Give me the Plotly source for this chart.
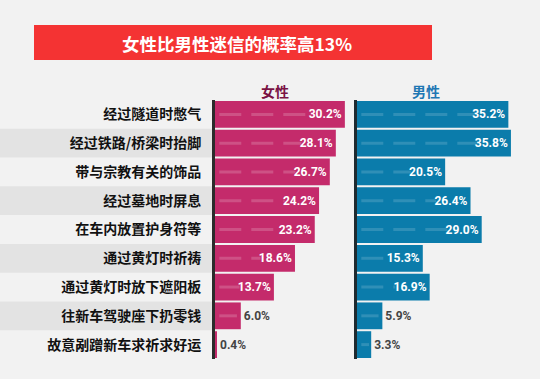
import plotly.graph_objects as go

categories = ["经过隧道时憋气", "经过铁路/桥梁时抬脚", "带与宗教有关的饰品", "经过墓地时屏息",
              "在车内放置护身符等", "通过黄灯时祈祷", "通过黄灯时放下遮阳板", "往新车驾驶座下扔零钱",
              "故意剐蹭新车求祈求好运"]
female = [30.2, 28.1, 26.7, 24.2, 23.2, 18.6, 13.7, 6.0, 0.4]
male = [35.2, 35.8, 20.5, 26.4, 29.0, 15.3, 16.9, 5.9, 3.3]
title_text = "女性比男性迷信的概率高13%"
group_names = ["女性", "男性"]

W, H = 540, 379
FEMALE_C = "#c42b6b"
MALE_C = "#0b7cab"
BG = "#f2f2f2"
BAND = "#e3e3e3"
CJK = "Noto Sans CJK SC"
NUM = "Roboto"

fig = go.Figure()

def add_group(vals, color, dash_color, xa, ya):
    pos = ["inside" if v >= 10 else "outside" for v in vals]
    fig.add_trace(go.Bar(
        x=vals, y=categories, orientation="h", xaxis=xa, yaxis=ya,
        marker=dict(color=color, line=dict(width=0)),
        text=[f"{v:.1f}%" for v in vals], textposition=pos,
        insidetextanchor="end",
        insidetextfont=dict(color="white", family=NUM, size=12, weight="bold"),
        outsidetextfont=dict(color="#444444", family=NUM, size=12, weight="bold"),
        cliponaxis=False, constraintext="none", hoverinfo="skip", showlegend=False,
    ))
    # decorative dashed line inside each bar
    for c, v in zip(categories, vals):
        end = v - 8 if v >= 10 else v * 0.85
        if end <= 0.5:
            continue
        fig.add_trace(go.Scatter(
            x=[1, end], y=[c, c], mode="lines", xaxis=xa, yaxis=ya,
            line=dict(color=dash_color, width=3, dash="22px,10px"),
            hoverinfo="skip", showlegend=False,
        ))

add_group(female, FEMALE_C, "rgba(255,255,255,0.18)", "x", "y")
add_group(male, MALE_C, "rgba(255,255,255,0.15)", "x2", "y2")

ytop, ybot = 100, 359
ydom = [1 - ybot / H, 1 - ytop / H]
px_per = 4.3
fx0, fx1 = 215, 355
mx0, mx1 = 357, 530

fig.update_layout(
    width=W, height=H, margin=dict(l=0, r=0, t=0, b=0),
    paper_bgcolor=BG, plot_bgcolor="rgba(0,0,0,0)",
    bargap=0.07,
    xaxis=dict(domain=[fx0 / W, fx1 / W], range=[0, (fx1 - fx0) / px_per],
               visible=False, fixedrange=True),
    xaxis2=dict(domain=[mx0 / W, mx1 / W], range=[0, (mx1 - mx0) / px_per],
                visible=False, fixedrange=True),
    yaxis=dict(domain=ydom, autorange="reversed", anchor="x",
               showline=True, linecolor="#2b2b2b", linewidth=3,
               showgrid=False, zeroline=False, ticks="", ticklabelstandoff=8,
               tickfont=dict(family=CJK, size=14, color="#111111", weight="bold")),
    yaxis2=dict(domain=ydom, autorange="reversed", anchor="x2",
                showline=True, linecolor="#1e2a30", linewidth=3,
                showgrid=False, zeroline=False, showticklabels=False, ticks=""),
)

shapes = []
for i in range(len(categories)):
    if i % 2 == 1:
        shapes.append(dict(type="rect", xref="paper", yref="y", x0=0, x1=213 / W,
                           y0=i - 0.5, y1=i + 0.5, fillcolor=BAND, line=dict(width=0),
                           layer="below"))
shapes.append(dict(type="rect", xref="paper", yref="paper",
                   x0=34 / W, x1=432 / W, y0=1 - 60 / H, y1=1 - 25 / H,
                   fillcolor="#f43333", line=dict(width=0), layer="below"))
fig.update_layout(shapes=shapes)

fig.add_annotation(text=title_text, xref="paper", yref="paper", x=237 / W, y=1 - 43 / H,
                   showarrow=False, xanchor="center", yanchor="middle",
                   font=dict(family=CJK, size=17.5, color="white", weight="bold"))
fig.add_annotation(text=group_names[0], xref="paper", yref="paper", x=275 / W, y=1 - 91 / H,
                   showarrow=False, xanchor="center", yanchor="middle",
                   font=dict(family=CJK, size=14, color="#7a1244", weight="bold"))
fig.add_annotation(text=group_names[1], xref="paper", yref="paper", x=426 / W, y=1 - 91 / H,
                   showarrow=False, xanchor="center", yanchor="middle",
                   font=dict(family=CJK, size=14, color="#1f78b4", weight="bold"))

fig.write_html("out.html", config={"displayModeBar": False},
               post_script="document.body.style.margin='0';document.body.style.background='%s';" % BG)
